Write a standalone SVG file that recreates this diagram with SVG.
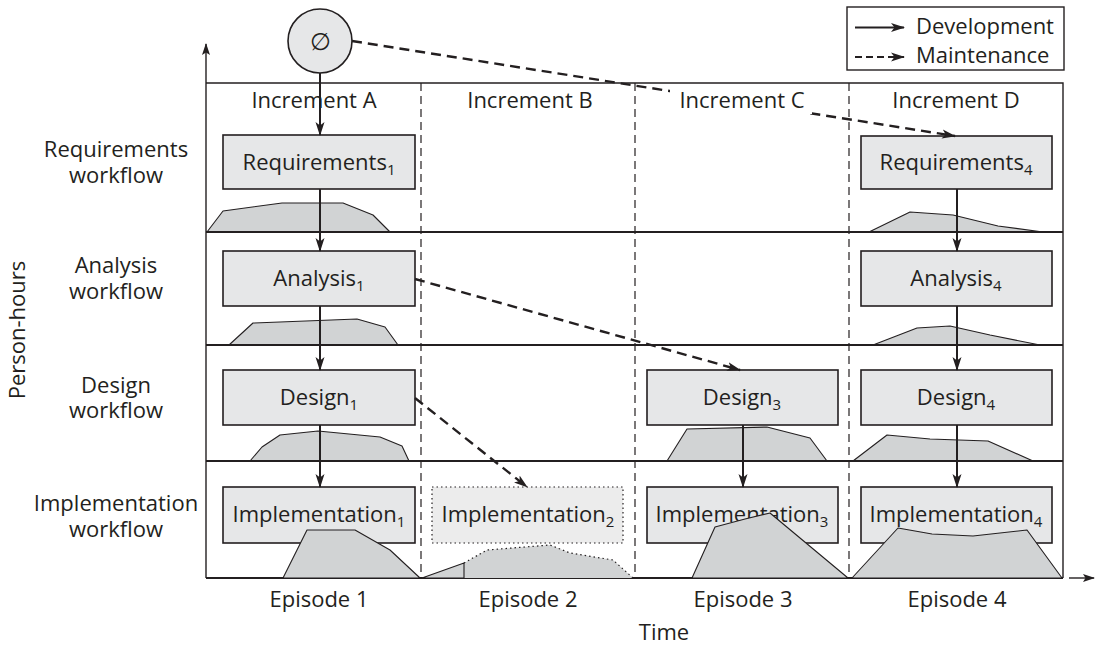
<svg xmlns="http://www.w3.org/2000/svg" width="1095" height="645" viewBox="0 0 1095 645">
<style>
text{font-family:"Open Sans","Liberation Sans",sans-serif;fill:#231f20;font-size:22px}
.c{text-anchor:middle}
.sub{font-size:15px}
.box{fill:#e6e7e8;stroke:#231f20;stroke-width:1.6}
.box2{fill:#ececec;stroke:#231f20;stroke-width:1.2;stroke-dasharray:1.5 3}
.mt{fill:#d1d3d4;stroke:#231f20;stroke-width:1.1;stroke-linejoin:round}
.row{stroke:#231f20;stroke-width:2;fill:none}
.frame{stroke:#231f20;stroke-width:1.4;fill:none}
.col{stroke:#231f20;stroke-width:1.2;stroke-dasharray:8 5;fill:none}
.dev{stroke:#231f20;stroke-width:2;fill:none;marker-end:url(#ah)}
.mnt{stroke:#231f20;stroke-width:2.4;fill:none;stroke-dasharray:10 6;marker-end:url(#ah)}
</style>
<defs>
<marker id="ah" markerWidth="14" markerHeight="10" refX="13" refY="5" orient="auto" markerUnits="userSpaceOnUse">
<path d="M0,0.5 L14,5 L0,9.5 L3.5,5 z" fill="#231f20"/>
</marker>
<marker id="ax" markerWidth="12" markerHeight="10" refX="11" refY="5" orient="auto" markerUnits="userSpaceOnUse">
<path d="M0,1 L12,5 L0,9 L2.5,5 z" fill="#231f20"/>
</marker>
</defs>

<g id="axes">
<line x1="206" y1="578" x2="206" y2="44" stroke="#231f20" stroke-width="1.4" marker-end="url(#ax)"/>
<line x1="1069" y1="578" x2="1094" y2="578" stroke="#231f20" stroke-width="1.4" marker-end="url(#ax)"/>
<polyline class="frame" points="206,83 1063,83 1063,578"/>
<line class="col" x1="421" y1="83" x2="421" y2="578"/>
<line class="col" x1="635" y1="83" x2="635" y2="578"/>
<line class="col" x1="849" y1="83" x2="849" y2="578"/>
</g>

<g id="mountains">
<polygon class="mt" points="207,232 223,211 282,203 343,203 373,215 390,232"/>
<polygon class="mt" points="869,232 910,212 953,215 998,226 1043,232"/>
<polygon class="mt" points="229,345 253,323 357,319 385,327 398,345"/>
<polygon class="mt" points="873,345 917,328 950,326 990,335 1040,345"/>
<polygon class="mt" points="250,461 262,447 280,435 318,431 380,437 402,446 409,461"/>
<polygon class="mt" points="667,461 687,429 767,427 810,438 827,461"/>
<polygon class="mt" points="853,461 887,435 930,439 988,441 1033,461"/>
</g>

<g id="rows">
<line class="row" x1="206" y1="232" x2="1063" y2="232"/>
<line class="row" x1="206" y1="345" x2="1063" y2="345"/>
<line class="row" x1="206" y1="461" x2="1063" y2="461"/>
<line class="row" x1="206" y1="578" x2="1063" y2="578"/>
</g>

<g id="legend">
<rect x="847" y="7" width="217" height="63" fill="#fff" stroke="#231f20" stroke-width="1.4"/>
<line x1="855" y1="27.5" x2="904" y2="27.5" stroke="#231f20" stroke-width="2" marker-end="url(#ah)"/>
<line x1="855" y1="57" x2="904" y2="57" stroke="#231f20" stroke-width="2" stroke-dasharray="7 4" marker-end="url(#ah)"/>
<text x="916" y="34">Development</text>
<text x="916" y="63">Maintenance</text>
</g>

<g id="labels">
<text class="c" x="116" y="157">Requirements</text>
<text class="c" x="116" y="183">workflow</text>
<text class="c" x="116" y="273">Analysis</text>
<text class="c" x="116" y="299">workflow</text>
<text class="c" x="116" y="393">Design</text>
<text class="c" x="116" y="418">workflow</text>
<text class="c" x="116" y="511">Implementation</text>
<text class="c" x="116" y="537">workflow</text>
<text class="c" transform="translate(25,330) rotate(-90)">Person-hours</text>
<text class="c" x="319" y="607">Episode 1</text>
<text class="c" x="528" y="607">Episode 2</text>
<text class="c" x="743" y="607">Episode 3</text>
<text class="c" x="957" y="607">Episode 4</text>
<text class="c" x="664" y="640">Time</text>
</g>

<g id="start">
<circle cx="320" cy="41" r="32" fill="#e6e7e8" stroke="#231f20" stroke-width="1.6"/>
<text class="c" x="320" y="50" style="font-family:'DejaVu Sans',sans-serif;font-size:24px;font-weight:200">∅</text>
</g>

<g id="req1"><rect class="box" x="223" y="135" width="192" height="54"/><text class="c" x="319" y="170">Requirements<tspan class="sub" dy="5">1</tspan></text></g>
<g id="req4"><rect class="box" x="861" y="136" width="191" height="53"/><text class="c" x="956" y="170">Requirements<tspan class="sub" dy="5">4</tspan></text></g>
<g id="ana1"><rect class="box" x="223" y="251" width="192" height="55"/><text class="c" x="319" y="286">Analysis<tspan class="sub" dy="5">1</tspan></text></g>
<g id="ana4"><rect class="box" x="861" y="251" width="191" height="55"/><text class="c" x="956" y="286">Analysis<tspan class="sub" dy="5">4</tspan></text></g>
<g id="des1"><rect class="box" x="223" y="370" width="192" height="55"/><text class="c" x="319" y="405">Design<tspan class="sub" dy="5">1</tspan></text></g>
<g id="des3"><rect class="box" x="647" y="370" width="191" height="55"/><text class="c" x="742" y="405">Design<tspan class="sub" dy="5">3</tspan></text></g>
<g id="des4"><rect class="box" x="861" y="370" width="191" height="55"/><text class="c" x="956" y="405">Design<tspan class="sub" dy="5">4</tspan></text></g>
<g id="imp1"><rect class="box" x="223" y="487" width="192" height="56"/><text class="c" x="319" y="522">Implementation<tspan class="sub" dy="5">1</tspan></text></g>
<g id="imp2"><rect class="box2" x="432" y="487" width="191" height="56"/><text class="c" x="528" y="522">Implementation<tspan class="sub" dy="5">2</tspan></text></g>
<g id="imp3"><rect class="box" x="647" y="487" width="191" height="56"/><text class="c" x="742" y="522">Implementation<tspan class="sub" dy="5">3</tspan></text></g>
<g id="imp4"><rect class="box" x="861" y="487" width="191" height="56"/><text class="c" x="956" y="522">Implementation<tspan class="sub" dy="5">4</tspan></text></g>

<g id="impl-mountains">
<polygon class="mt" points="283,578 307,530 355,530 390,550 420,578"/>
<polygon fill="#d1d3d4" points="464,563 487,550 550,545 570,553 613,560 633,578 464,578"/>
<polyline fill="none" stroke="#231f20" stroke-width="1.2" stroke-dasharray="1.5 3" points="464,563 487,550 550,545 570,553 613,560 633,578"/>
<polygon class="mt" points="422,578 464,563 464,578"/>
<polygon class="mt" points="692,578 715,527 745,519 770,513 848,578"/>
<polygon class="mt" points="852,578 898,528 932,534 973,536 1027,530 1062,578"/>
</g>

<g id="connectors">
<line class="dev" x1="320" y1="73" x2="320" y2="135"/>
<line class="dev" x1="320" y1="189" x2="320" y2="251"/>
<line class="dev" x1="320" y1="306" x2="320" y2="370"/>
<line class="dev" x1="320" y1="425" x2="320" y2="487"/>
<line class="dev" x1="957" y1="189" x2="957" y2="251"/>
<line class="dev" x1="957" y1="306" x2="957" y2="370"/>
<line class="dev" x1="957" y1="425" x2="957" y2="487"/>
<line class="dev" x1="743" y1="425" x2="743" y2="487"/>
<line class="mnt" x1="352" y1="41" x2="955" y2="136"/>
<line class="mnt" x1="415" y1="279" x2="740" y2="370"/>
<line class="mnt" x1="415" y1="398" x2="527" y2="487"/>
</g>

<g id="increments">
<text class="c" x="314" y="108">Increment A</text>
<text class="c" x="530" y="108">Increment B</text>
<rect x="670" y="86" width="142" height="28" fill="#fff"/>
<text class="c" x="742" y="108">Increment C</text>
<text class="c" x="956" y="108">Increment D</text>
</g>
</svg>
